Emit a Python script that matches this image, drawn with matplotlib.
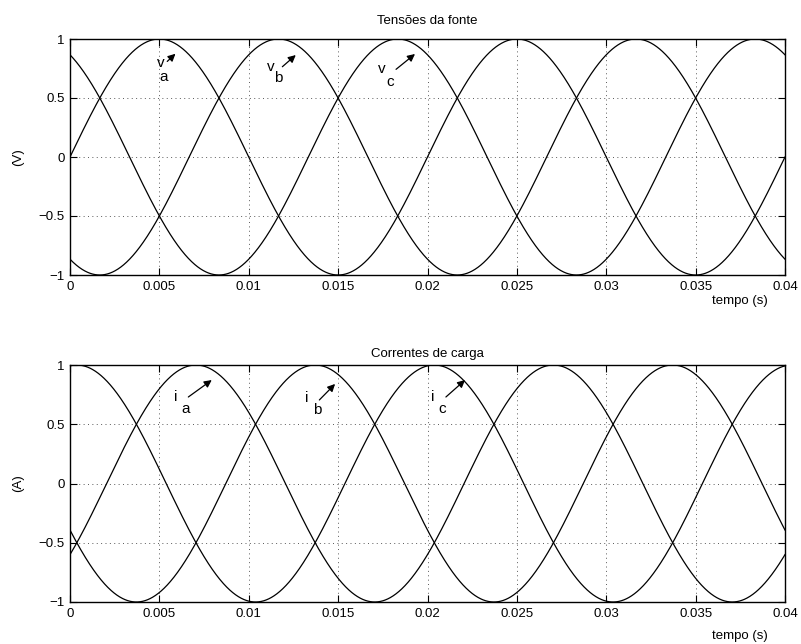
import numpy as np
import matplotlib
matplotlib.use("Agg")
import matplotlib.pyplot as plt

plt.rcParams['font.family'] = ['Liberation Sans', 'DejaVu Sans']

# Three-phase source: 50 Hz, unit amplitude
freq_hz = 50.0
t_end = 0.04
n_samples = 2001
phase_names = ['a', 'b', 'c']
voltage_phase_deg = [0.0, -120.0, 120.0]
current_lag_deg = 36.87          # load power factor 0.8 (inductive)
amplitude_v = 1.0
amplitude_i = 1.0

x_ticks = [0, 0.005, 0.01, 0.015, 0.02, 0.025, 0.03, 0.035, 0.04]
x_tick_labels = ['0', '0.005', '0.01', '0.015', '0.02', '0.025', '0.03', '0.035', '0.04']
y_ticks = [-1, -0.5, 0, 0.5, 1]
y_tick_labels = ['\u22121', '\u22120.5', '0', '0.5', '1']

# Label anchors (left edge of letter) and arrows (tail -> head), in data units
v_label_xy = [(0.00488, 0.80), (0.01100, 0.765), (0.01723, 0.743)]
v_arrow_tail = [(0.00544, 0.81), (0.01188, 0.765), (0.01824, 0.743)]
v_arrow_head = [(0.00590, 0.875), (0.01263, 0.864), (0.01930, 0.873)]
i_label_xy = [(0.00582, 0.732), (0.01315, 0.719), (0.02020, 0.73)]
i_arrow_tail = [(0.00662, 0.73), (0.01395, 0.705), (0.02103, 0.73)]
i_arrow_head = [(0.00793, 0.873), (0.01483, 0.84), (0.02210, 0.873)]

# Subscript placement relative to the letter, in pixels
v_sub_offset = [(2, -14), (7.5, -11.5), (8.5, -12.5)]
i_sub_offset = [(7.5, -12), (7.5, -12), (7.5, -12)]

t = np.linspace(0.0, t_end, n_samples)
w = 2 * np.pi * freq_hz
voltages = [amplitude_v * np.sin(w * t + np.deg2rad(p)) for p in voltage_phase_deg]
currents = [amplitude_i * np.sin(w * t + np.deg2rad(p - current_lag_deg)) for p in voltage_phase_deg]

W, H = 801, 644
fig = plt.figure(figsize=(W / 100, H / 100), dpi=100)
ax1 = fig.add_axes([70 / W, 1 - 275 / H, 715 / W, 236 / H])
ax2 = fig.add_axes([70 / W, 1 - 602 / H, 715 / W, 237 / H])

FS = 9.5


def style_axes(ax, title, ylabel, xlabel_y, title_pad):
    ax.set_xlim(0, t_end)
    ax.set_ylim(-1, 1)
    ax.set_xticks(x_ticks)
    ax.set_xticklabels(x_tick_labels, fontsize=FS)
    ax.set_yticks(y_ticks)
    ax.set_yticklabels(y_tick_labels, fontsize=FS)
    ax.tick_params(direction='in', length=5, width=0.8, top=True, right=True,
                   pad=4, colors='black')
    ax.grid(True, color='0.35', linestyle=(0, (1, 3.5)), linewidth=0.7)
    for s in ax.spines.values():
        s.set_linewidth(1.0)
    ax.set_title(title, fontsize=FS, pad=title_pad)
    ax.set_ylabel(ylabel, fontsize=FS)
    ax.yaxis.set_label_coords(-0.064, 0.5)
    ax.text(0.937, xlabel_y, 'tempo (s)', transform=ax.transAxes,
            ha='center', va='center', fontsize=FS)


def annotate(ax, letter, sub, xy, sub_off, tail, head):
    ax.text(xy[0], xy[1], letter, fontsize=11, ha='left', va='center')
    ax.annotate(sub, xy=xy, xytext=sub_off, textcoords='offset pixels',
                fontsize=11, ha='left', va='center')
    ax.annotate('', xy=head, xytext=tail,
                arrowprops=dict(arrowstyle='-|>', color='black', lw=0.9,
                                mutation_scale=11, shrinkA=0, shrinkB=0))


for y in voltages:
    ax1.plot(t, y, color='black', lw=0.9)
for y in currents:
    ax2.plot(t, y, color='black', lw=0.9)

style_axes(ax1, 'Tensões da fonte', '(V)', -0.110, 11)
style_axes(ax2, 'Correntes de carga', '(A)', -0.143, 6)

for k, name in enumerate(phase_names):
    annotate(ax1, 'v', name, v_label_xy[k], v_sub_offset[k], v_arrow_tail[k], v_arrow_head[k])
    annotate(ax2, 'i', name, i_label_xy[k], i_sub_offset[k], i_arrow_tail[k], i_arrow_head[k])

fig.savefig('out.png', dpi=100)
